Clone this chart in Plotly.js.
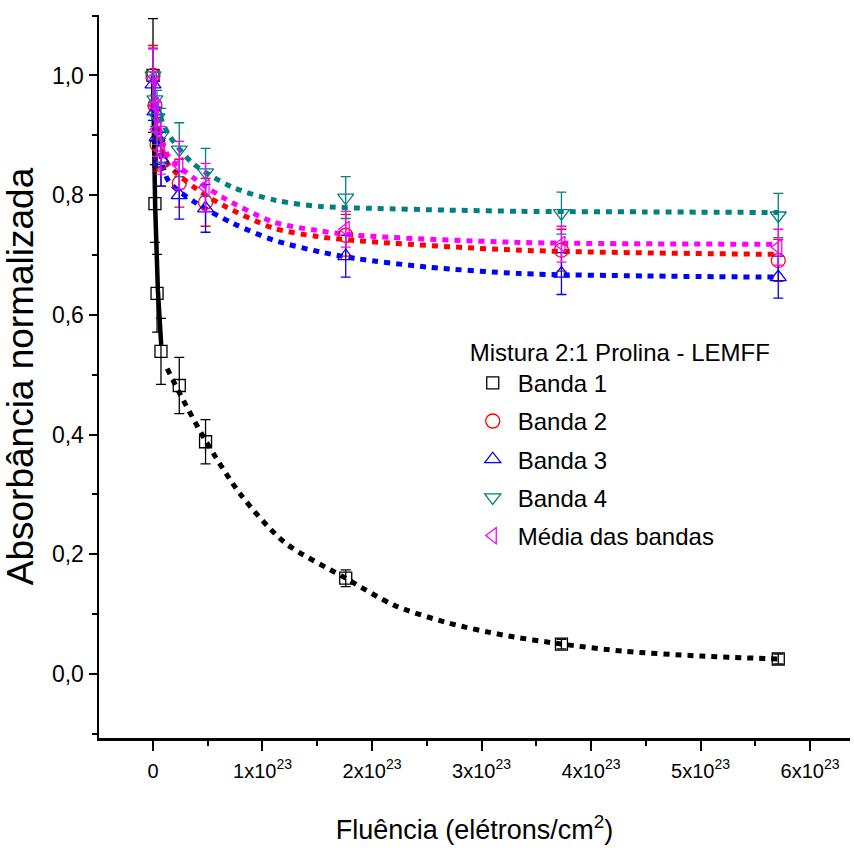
<!DOCTYPE html>
<html>
<head>
<meta charset="utf-8">
<script src="https://cdn.plot.ly/plotly-3.0.1.min.js"></script>
<style>html,body{margin:0;padding:0;background:#fff;}#chart{width:854px;height:852px;}</style>
</head>
<body>
<div id="chart"></div>
<script>
// ---- data ----
const fluencia = [0, 0.018e23, 0.037e23, 0.073e23, 0.24e23, 0.48e23, 1.76e23, 3.73e23, 5.71e23];
const banda1 = [1.000, 0.786, 0.636, 0.539, 0.482, 0.388, 0.160, 0.050, 0.025];
const banda1Err = [0.095, 0.065, 0.065, 0.055, 0.047, 0.037, 0.014, 0.008, 0.008];
const banda2 = [1.000, 0.950, 0.885, 0.855, 0.820, 0.788, 0.733, 0.708, 0.691];
const banda2Err = [0.050, 0.045, 0.045, 0.040, 0.040, 0.040, 0.035, 0.035, 0.035];
const banda3 = [0.985, 0.940, 0.897, 0.860, 0.800, 0.778, 0.698, 0.669, 0.663];
const banda3Err = [0.060, 0.050, 0.050, 0.045, 0.040, 0.040, 0.035, 0.035, 0.035];
const banda4 = [1.000, 0.960, 0.930, 0.900, 0.876, 0.838, 0.796, 0.770, 0.766];
const banda4Err = [0.045, 0.045, 0.045, 0.045, 0.045, 0.040, 0.035, 0.035, 0.037];
const media = [0.995, 0.950, 0.910, 0.875, 0.850, 0.813, 0.743, 0.718, 0.713];
const mediaErr = [0.050, 0.045, 0.045, 0.040, 0.040, 0.040, 0.030, 0.030, 0.030];

// fitted curves
const fit1SteepX = [0, 0.02e23, 0.045e23, 0.075e23];
const fit1SteepY = [1.00, 0.78, 0.64, 0.55];
const fit1X = [0.13e23, 0.24e23, 0.48e23, 0.80e23, 1.20e23, 1.76e23, 2.20e23, 2.70e23, 3.20e23, 3.73e23, 4.30e23, 5.00e23, 5.71e23];
const fit1Y = [0.510, 0.470, 0.390, 0.300, 0.220, 0.160, 0.115, 0.085, 0.065, 0.050, 0.038, 0.030, 0.025];
const fit2X = [0, 0.05e23, 0.137e23, 0.40e23, 0.64e23, 1.10e23, 1.50e23, 1.86e23, 3.35e23, 5.71e23];
const fit2Y = [0.955, 0.905, 0.852, 0.810, 0.783, 0.745, 0.731, 0.724, 0.708, 0.701];
const fit3X = [0, 0.05e23, 0.137e23, 0.40e23, 0.73e23, 1.10e23, 1.53e23, 1.86e23, 2.50e23, 3.35e23, 4.50e23, 5.71e23];
const fit3Y = [0.950, 0.890, 0.825, 0.786, 0.753, 0.725, 0.705, 0.694, 0.680, 0.669, 0.665, 0.663];
const fit4X = [0, 0.05e23, 0.137e23, 0.365e23, 0.73e23, 1.13e23, 1.53e23, 2.00e23, 2.70e23, 3.35e23, 4.50e23, 5.71e23];
const fit4Y = [0.970, 0.940, 0.903, 0.853, 0.813, 0.791, 0.781, 0.778, 0.775, 0.773, 0.772, 0.771];
const fitMX = [0, 0.05e23, 0.137e23, 0.40e23, 0.64e23, 1.10e23, 1.50e23, 1.86e23, 3.35e23, 5.71e23];
const fitMY = [0.970, 0.920, 0.866, 0.825, 0.796, 0.755, 0.741, 0.733, 0.721, 0.718];

const xTickVals = [0, 1e23, 2e23, 3e23, 4e23, 5e23, 6e23];
const xTickText = ['0', '1x10<sup>23</sup>', '2x10<sup>23</sup>', '3x10<sup>23</sup>', '4x10<sup>23</sup>', '5x10<sup>23</sup>', '6x10<sup>23</sup>'];

const names = ['Banda 1', 'Banda 2', 'Banda 3', 'Banda 4', 'Média das bandas'];
const colors = ['#000000', '#FF0000', '#0000FF', '#008080', '#FF00FF'];
const symbols = ['square-open', 'circle-open', 'triangle-up-open', 'triangle-down-open', 'triangle-left-open'];
const sizes = [12, 14, 14, 14, 14];

const DOT = '6px,6px';
function fitTrace(x, y, color, dash, width, shape) {
  return {x: x, y: y, mode: 'lines', type: 'scatter', showlegend: false, hoverinfo: 'skip',
          line: {color: color, width: width, dash: dash, shape: shape, smoothing: 0.8}};
}
const traces = [
  fitTrace(fit4X, fit4Y, colors[3], DOT, 5, 'spline'),
  fitTrace(fitMX, fitMY, colors[4], DOT, 5, 'spline'),
  fitTrace(fit2X, fit2Y, colors[1], DOT, 5, 'spline'),
  fitTrace(fit3X, fit3Y, colors[2], DOT, 5, 'spline'),
  fitTrace(fit1X, fit1Y, colors[0], DOT, 5, 'spline'),
  fitTrace(fit1SteepX, fit1SteepY, colors[0], 'solid', 4.5, 'linear')
];
const series = [banda1, banda2, banda3, banda4, media];
const errs = [banda1Err, banda2Err, banda3Err, banda4Err, mediaErr];
for (let i = 0; i < 5; i++) {
  traces.push({
    x: fluencia, y: series[i], name: names[i], type: 'scatter', mode: 'markers',
    legendgroup: 'g' + i,
    marker: {symbol: symbols[i], size: sizes[i], color: colors[i], line: {color: colors[i], width: 1.3}},
    error_y: {type: 'data', array: errs[i], visible: true, color: colors[i], thickness: 1.3, width: 5}
  });
}

const layout = {
  width: 854, height: 852,
  margin: {l: 99, r: 4, t: 15, b: 114},
  paper_bgcolor: '#ffffff', plot_bgcolor: '#ffffff',
  separators: ',.',
  font: {family: 'Liberation Sans, Arial, sans-serif', color: '#000'},
  showlegend: true,
  legend: {
    x: 0.491, y: 0.565, xanchor: 'left', yanchor: 'top',
    bgcolor: 'rgba(0,0,0,0)', borderwidth: 0,
    traceorder: 'grouped', tracegroupgap: 4, itemwidth: 40,
    font: {family: 'Liberation Sans, Arial, sans-serif', size: 24, color: '#000'},
    title: {text: 'Mistura 2:1 Prolina - LEMFF', font: {family: 'Liberation Sans, Arial, sans-serif', size: 24, color: '#000'}}
  },
  xaxis: {
    range: [-0.493e23, 6.365e23],
    showgrid: false, zeroline: false,
    showline: true, linecolor: '#000', linewidth: 2.5,
    ticks: 'outside', ticklen: 10, tickwidth: 2, tickcolor: '#000',
    tickvals: xTickVals, ticktext: xTickText,
    tickfont: {family: 'Liberation Sans, Arial, sans-serif', size: 20, color: '#000'},
    ticklabelstandoff: 3,
    minor: {dtick: 0.5e23, tick0: 0, ticks: 'outside', ticklen: 5, tickwidth: 2, tickcolor: '#000', showgrid: false},
    title: {text: 'Fluência (elétrons/cm<sup>2</sup>)', font: {family: 'Liberation Sans, Arial, sans-serif', size: 27, color: '#000'}, standoff: 40}
  },
  yaxis: {
    range: [-0.107, 1.101],
    showgrid: false, zeroline: false,
    showline: true, linecolor: '#000', linewidth: 2.5,
    ticks: 'outside', ticklen: 8, tickwidth: 2, tickcolor: '#000',
    tickvals: [0, 0.2, 0.4, 0.6, 0.8, 1.0], tickformat: '.1f',
    tickfont: {family: 'Liberation Sans, Arial, sans-serif', size: 23, color: '#000'},
    minor: {dtick: 0.1, tick0: 0, ticks: 'outside', ticklen: 5, tickwidth: 2, tickcolor: '#000', showgrid: false},
    title: {text: 'Absorbância normalizada', font: {family: 'Liberation Sans, Arial, sans-serif', size: 37, color: '#000'}, standoff: 8}
  }
};

Plotly.newPlot('chart', traces, layout, {displayModeBar: false, staticPlot: true});
</script>
</body>
</html>
